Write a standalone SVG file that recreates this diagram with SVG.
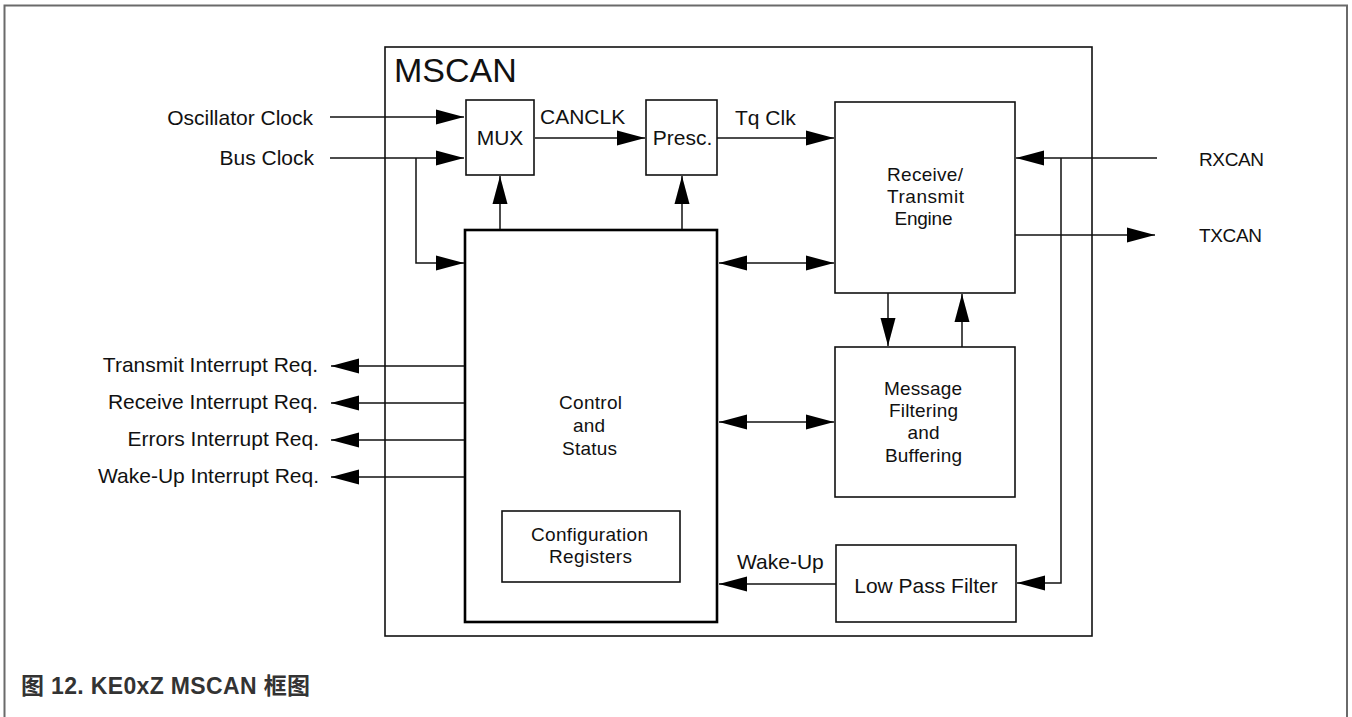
<svg xmlns="http://www.w3.org/2000/svg" width="1352" height="717" viewBox="0 0 1352 717">
<style>
  .box{fill:#fff;stroke:#111;stroke-width:1.6}
  .thick{fill:#fff;stroke:#000;stroke-width:2.6}
  .ln{fill:none;stroke:#111;stroke-width:1.5}
  .t{font-family:"Liberation Sans",Arial,sans-serif;fill:#111}
  .lbl{font-size:21px}
  .nar{font-size:19px}
  .cap{font-family:"Liberation Sans","Noto Sans CJK SC",sans-serif;font-weight:bold;font-size:23px;fill:#333}
</style>
<defs>
  <marker id="ah" markerUnits="userSpaceOnUse" markerWidth="28" markerHeight="16" refX="28" refY="8" orient="auto-start-reverse" viewBox="0 0 28 16">
    <path d="M0,0.5 L28,8 L0,15.5 z" fill="#000"/>
  </marker>
</defs>
<rect x="0" y="0" width="1352" height="717" fill="#fff"/>
<path d="M4.5,717 V5.5 H1347 V717" fill="none" stroke="#6a6a6a" stroke-width="2"/>

<g id="mscan">
  <rect class="box" x="385" y="47" width="707" height="589"/>
  <text class="t" x="394" y="82" font-size="34">MSCAN</text>
</g>
<g id="mux">
  <rect class="box" x="466" y="100" width="68" height="75"/>
  <text class="t lbl" x="500" y="145" text-anchor="middle">MUX</text>
</g>
<g id="presc">
  <rect class="box" x="646" y="100" width="71" height="75"/>
  <text class="t lbl" x="682.5" y="145" text-anchor="middle">Presc.</text>
</g>
<g id="rte">
  <rect class="box" x="835" y="102" width="180" height="191"/>
  <text class="t nar" x="925" y="181" text-anchor="middle" textLength="76" lengthAdjust="spacing">Receive/</text>
  <text class="t nar" x="925.5" y="203" text-anchor="middle" textLength="77" lengthAdjust="spacing">Transmit</text>
  <text class="t nar" x="923.5" y="225" text-anchor="middle" textLength="58" lengthAdjust="spacing">Engine</text>
</g>
<g id="control">
  <rect class="thick" x="465" y="230" width="252" height="392"/>
  <text class="t nar" x="590.5" y="409" text-anchor="middle" textLength="63" lengthAdjust="spacing">Control</text>
  <text class="t nar" x="589" y="432" text-anchor="middle" textLength="32" lengthAdjust="spacing">and</text>
  <text class="t nar" x="589.5" y="455" text-anchor="middle" textLength="55" lengthAdjust="spacing">Status</text>
</g>
<g id="config">
  <rect class="box" x="502" y="511" width="178" height="71"/>
  <text class="t nar" x="589.5" y="541" text-anchor="middle" textLength="117" lengthAdjust="spacing">Configuration</text>
  <text class="t nar" x="590.5" y="563" text-anchor="middle" textLength="83" lengthAdjust="spacing">Registers</text>
</g>
<g id="mfb">
  <rect class="box" x="835" y="347" width="180" height="150"/>
  <text class="t nar" x="923" y="395" text-anchor="middle" textLength="78" lengthAdjust="spacing">Message</text>
  <text class="t nar" x="923.5" y="417" text-anchor="middle" textLength="69" lengthAdjust="spacing">Filtering</text>
  <text class="t nar" x="923.5" y="439" text-anchor="middle" textLength="32" lengthAdjust="spacing">and</text>
  <text class="t nar" x="923.5" y="462" text-anchor="middle" textLength="77" lengthAdjust="spacing">Buffering</text>
</g>
<g id="lpf">
  <rect class="box" x="836" y="545" width="180" height="77"/>
  <text class="t lbl" x="926" y="593" text-anchor="middle">Low Pass Filter</text>
</g>

<g id="connectors">
  <path class="ln" d="M330,117 H464" marker-end="url(#ah)"/>
  <path class="ln" d="M330,158 H464" marker-end="url(#ah)"/>
  <path class="ln" d="M416,158 V263 H464" marker-end="url(#ah)"/>
  <path class="ln" d="M535,138 H645" marker-end="url(#ah)"/>
  <path class="ln" d="M717,138 H834" marker-end="url(#ah)"/>
  <path class="ln" d="M500,229 V176" marker-end="url(#ah)"/>
  <path class="ln" d="M682,229 V176" marker-end="url(#ah)"/>
  <path class="ln" d="M719,263 H834" marker-start="url(#ah)" marker-end="url(#ah)"/>
  <path class="ln" d="M888,293 V346" marker-end="url(#ah)"/>
  <path class="ln" d="M962,347 V294" marker-end="url(#ah)"/>
  <path class="ln" d="M719,422 H834" marker-start="url(#ah)" marker-end="url(#ah)"/>
  <path class="ln" d="M1157,158 H1016" marker-end="url(#ah)"/>
  <path class="ln" d="M1061,158 V583 H1017" marker-end="url(#ah)"/>
  <path class="ln" d="M1015,235 H1155" marker-end="url(#ah)"/>
  <path class="ln" d="M836,584 H719" marker-end="url(#ah)"/>
  <path class="ln" d="M464,366 H331" marker-end="url(#ah)"/>
  <path class="ln" d="M464,403 H331" marker-end="url(#ah)"/>
  <path class="ln" d="M464,440 H331" marker-end="url(#ah)"/>
  <path class="ln" d="M464,477 H331" marker-end="url(#ah)"/>
</g>

<g id="labels">
  <text class="t lbl" x="313" y="125" text-anchor="end">Oscillator Clock</text>
  <text class="t lbl" x="314" y="165" text-anchor="end">Bus Clock</text>
  <text class="t lbl" x="540" y="124">CANCLK</text>
  <text class="t lbl" x="735" y="125">Tq Clk</text>
  <text class="t nar" x="1199" y="166" textLength="65" lengthAdjust="spacing">RXCAN</text>
  <text class="t nar" x="1199" y="242" textLength="63" lengthAdjust="spacing">TXCAN</text>
  <text class="t lbl" x="737" y="569">Wake-Up</text>
  <text class="t lbl" x="318" y="372" text-anchor="end">Transmit Interrupt Req.</text>
  <text class="t lbl" x="318" y="409" text-anchor="end">Receive Interrupt Req.</text>
  <text class="t lbl" x="319" y="446" text-anchor="end">Errors Interrupt Req.</text>
  <text class="t lbl" x="319" y="483" text-anchor="end">Wake-Up Interrupt Req.</text>
  <text class="cap" x="21" y="694" textLength="289" lengthAdjust="spacing">图 12. KE0xZ MSCAN 框图</text>
</g>
</svg>
